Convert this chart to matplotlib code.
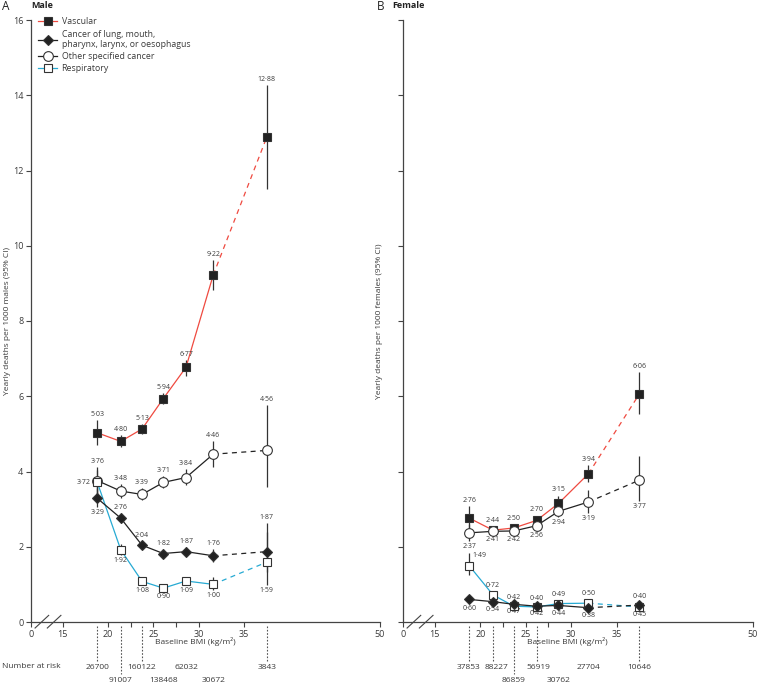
"""BMI vs cause-specific mortality, male and female panels. Writes out.png."""

import matplotlib

matplotlib.use("Agg")
import matplotlib.pyplot as plt  # noqa: E402
from matplotlib.lines import Line2D  # noqa: E402
from matplotlib.transforms import blended_transform_factory  # noqa: E402

plt.rcParams["font.family"] = ["Open Sans", "DejaVu Sans"]

RED, CYAN, INK, TXT = "#ef4a40", "#27aad3", "#222222", "#3a3a3a"

# ---- data ----
male_bmi = [18.8, 21.4, 23.75, 26.1, 28.6, 31.6, 37.5]
male_vasc = [5.03, 4.80, 5.13, 5.94, 6.77, 9.22, 12.88]
male_vasc_lo = [4.70, 4.65, 5.00, 5.80, 6.55, 8.82, 11.52]
male_vasc_hi = [5.36, 4.96, 5.27, 6.09, 6.97, 9.62, 14.26]
male_lung = [3.29, 2.76, 2.04, 1.82, 1.87, 1.76, 1.87]
male_lung_lo = [3.05, 2.62, 1.93, 1.72, 1.76, 1.60, 1.33]
male_lung_hi = [3.55, 2.90, 2.16, 1.93, 1.99, 1.93, 2.63]
male_other = [3.76, 3.48, 3.39, 3.71, 3.84, 4.46, 4.56]
male_other_lo = [3.38, 3.30, 3.24, 3.55, 3.63, 4.13, 3.58]
male_other_hi = [4.13, 3.67, 3.55, 3.88, 4.06, 4.80, 5.77]
male_resp = [3.72, 1.92, 1.08, 0.90, 1.09, 1.00, 1.59]
male_resp_lo = [3.40, 1.78, 0.98, 0.82, 0.99, 0.84, 0.98]
male_resp_hi = [4.05, 2.07, 1.19, 0.99, 1.20, 1.19, 2.40]
male_at_risk = ["26700", "91007", "160122", "138468", "62032", "30672", "3843"]

female_bmi = [18.8, 21.4, 23.7, 26.2, 28.6, 31.9, 37.5]
female_vasc = [2.76, 2.44, 2.50, 2.70, 3.15, 3.94, 6.06]
female_vasc_lo = [2.48, 2.35, 2.41, 2.58, 2.96, 3.72, 5.54]
female_vasc_hi = [3.07, 2.54, 2.60, 2.83, 3.36, 4.18, 6.65]
female_lung = [0.60, 0.54, 0.47, 0.42, 0.44, 0.38, 0.45]
female_lung_lo = [0.52, 0.48, 0.42, 0.37, 0.38, 0.31, 0.36]
female_lung_hi = [0.69, 0.61, 0.53, 0.48, 0.51, 0.46, 0.56]
female_other = [2.37, 2.41, 2.42, 2.56, 2.94, 3.19, 3.77]
female_other_lo = [2.16, 2.33, 2.34, 2.45, 2.78, 2.89, 3.22]
female_other_hi = [2.60, 2.49, 2.50, 2.67, 3.10, 3.52, 4.42]
female_resp = [1.49, 0.72, 0.42, 0.40, 0.49, 0.50, 0.40]
female_resp_lo = [1.25, 0.62, 0.36, 0.34, 0.42, 0.41, 0.30]
female_resp_hi = [1.83, 0.82, 0.49, 0.47, 0.57, 0.60, 0.53]
female_at_risk = ["37853", "88227", "86859", "56919", "30762", "27704", "10646"]

x_ticks = [15, 20, 25, 30, 35, 50]
y_ticks = [0, 2, 4, 6, 8, 10, 12, 14, 16]
ZERO_POS = 11.5  # where "0" sits on the broken x axis

# label placement per point: a=above, b=below, l=left, r=right
male_pos = {
    "vasc": "aaaaaaa",
    "lung": "baaaaaa",
    "other": "aaaaaaa",
    "resp": "lbbbbbb",
}
female_pos = {
    "vasc": "aaaaaaa",
    "lung": "bbbbbbb",
    "other": "bbbbbbb",
    "resp": "raaaaaa",
}
male_rows = [0, 1, 0, 1, 0, 1, 0]
male_guides = [1, 1, 1, 0, 0, 0, 1]
male_nudge = [0, 0, 0, 0, 0, 0, 0]
female_rows = [0, 0, 1, 0, 1, 0, 0]
female_guides = [1, 1, 1, 1, 0, 0, 1]
female_nudge = [-0.1, 0.4, 0, 0.2, 0, 0, 0]

STYLE = {
    "vasc": dict(color=RED, marker="s", mfc=INK, ms=6.2),
    "lung": dict(color=INK, marker="D", mfc=INK, ms=5.6),
    "other": dict(color=INK, marker="o", mfc="white", ms=7.0),
    "resp": dict(color=CYAN, marker="s", mfc="white", ms=6.2),
}


def fmt(v):
    return f"{v:.2f}".replace(".", "\u00b7")


def draw_series(ax, xs, ys, lo, hi, key, pos):
    st = STYLE[key]
    ax.vlines(xs, lo, hi, color="#333333", lw=0.9, zorder=2)
    ax.plot(xs[:-1], ys[:-1], color=st["color"], lw=0.9, zorder=3)
    ax.plot(xs[-2:], ys[-2:], color=st["color"], lw=0.9, ls=(0, (4, 3.5)), zorder=3)
    ax.plot(xs, ys, ls="none", marker=st["marker"], mfc=st["mfc"], mec="#333333",
            mew=0.8, ms=st["ms"], zorder=4)
    for x, y, l, h, p in zip(xs, ys, lo, hi, pos):
        if p == "a":
            kw = dict(xy=(x, h), xytext=(0, 1.5), ha="center", va="bottom")
        elif p == "b":
            kw = dict(xy=(x, l), xytext=(0, -1.5), ha="center", va="top")
        elif p == "l":
            kw = dict(xy=(x, y), xytext=(-5, 0), ha="right", va="center")
        else:
            kw = dict(xy=(x, h), xytext=(2, -2), ha="left", va="center")
        ax.annotate(fmt(y), textcoords="offset points", fontsize=5, color=TXT, **kw)


def style_axes(ax, ylabel, show_ylabels):
    ax.set_xlim(ZERO_POS, 50)
    ax.set_ylim(0, 16)
    ax.spines[["top", "right"]].set_visible(False)
    for s in ("left", "bottom"):
        ax.spines[s].set_color("#444444")
        ax.spines[s].set_linewidth(0.9)
    ax.set_xticks([ZERO_POS] + x_ticks)
    ax.set_xticklabels(["0"] + [str(t) for t in x_ticks])
    ax.set_xticks([22.5, 27.5], minor=True)
    ax.set_yticks(y_ticks)
    if not show_ylabels:
        ax.set_yticklabels([])
    ax.tick_params(length=3.5, width=0.8, color="#444444", labelsize=6.5,
                   labelcolor=TXT, pad=2)
    ax.tick_params(which="minor", length=3.5, width=0.8, color="#444444")
    ax.set_ylabel(ylabel, fontsize=6, color=TXT, labelpad=1 if show_ylabels else 9)
    tr = blended_transform_factory(ax.transData, ax.transAxes)
    for x0 in (11.95, 13.3):
        ax.plot([x0, x0 + 1.5], [-0.010, 0.011], color="#444444", lw=0.8,
                transform=tr, clip_on=False)
    ax.text(29.6, -0.033, "Baseline BMI (kg/m\u00b2)", transform=tr, ha="center",
            va="center", fontsize=6, color=TXT)


def at_risk(ax, xs, labels, rows, guides, nudge):
    tr = blended_transform_factory(ax.transData, ax.transAxes)
    for x, lab, r, g, dx in zip(xs, labels, rows, guides, nudge):
        yt = -0.075 if r == 0 else -0.098
        ax.text(x + dx, yt, lab, transform=tr, ha="center", va="center",
                fontsize=6.0, color=TXT)
        if g:
            ax.plot([x, x], [-0.006, -0.064 if r == 0 else -0.087], color="#555555",
                    lw=0.8, ls=(0, (1.5, 1.5)), transform=tr, clip_on=False)


def main():
    fig = plt.figure(figsize=(7.59, 6.85), dpi=100)
    ax_m = fig.add_axes([31 / 759, 63 / 685, 349 / 759, 602 / 685])
    ax_f = fig.add_axes([403 / 759, 63 / 685, 350 / 759, 602 / 685])

    draw_series(ax_m, male_bmi, male_vasc, male_vasc_lo, male_vasc_hi, "vasc", male_pos["vasc"])
    draw_series(ax_m, male_bmi, male_other, male_other_lo, male_other_hi, "other", male_pos["other"])
    draw_series(ax_m, male_bmi, male_resp, male_resp_lo, male_resp_hi, "resp", male_pos["resp"])
    draw_series(ax_m, male_bmi, male_lung, male_lung_lo, male_lung_hi, "lung", male_pos["lung"])

    draw_series(ax_f, female_bmi, female_vasc, female_vasc_lo, female_vasc_hi, "vasc", female_pos["vasc"])
    draw_series(ax_f, female_bmi, female_other, female_other_lo, female_other_hi, "other", female_pos["other"])
    draw_series(ax_f, female_bmi, female_resp, female_resp_lo, female_resp_hi, "resp", female_pos["resp"])
    draw_series(ax_f, female_bmi, female_lung, female_lung_lo, female_lung_hi, "lung", female_pos["lung"])

    style_axes(ax_m, "Yearly deaths per 1000 males (95% CI)", True)
    style_axes(ax_f, "Yearly deaths per 1000 females (95% CI)", False)

    at_risk(ax_m, male_bmi, male_at_risk, male_rows, male_guides, male_nudge)
    at_risk(ax_f, female_bmi, female_at_risk, female_rows, female_guides, female_nudge)
    fig.text(2 / 759, 1 - 667 / 685, "Number at risk", ha="left", va="center",
             fontsize=6.0, color=TXT)

    handles = [
        Line2D([], [], color=STYLE[k]["color"], lw=0.9, marker=STYLE[k]["marker"],
               mfc=STYLE[k]["mfc"], mec="#333333", mew=0.8, ms=STYLE[k]["ms"])
        for k in ("vasc", "lung", "other", "resp")
    ]
    names = ["Vascular", "Cancer of lung, mouth,\npharynx, larynx, or oesophagus",
             "Other specified cancer", "Respiratory"]
    ax_m.legend(handles, names, loc="upper left", bbox_to_anchor=(0.01, 1.01),
                frameon=False, fontsize=6.3, handlelength=2.2, handletextpad=0.5,
                labelspacing=0.35, labelcolor=TXT, borderaxespad=0)

    fig.text(2 / 759, 1 - 6 / 685, "A", fontsize=8.5, color=INK, va="center")
    fig.text(31 / 759, 1 - 6 / 685, "Male", fontsize=6.5, fontweight="bold",
             color=INK, va="center")
    fig.text(377 / 759, 1 - 6 / 685, "B", fontsize=8.5, color=INK, va="center")
    fig.text(392 / 759, 1 - 6 / 685, "Female", fontsize=6.5, fontweight="bold",
             color=INK, va="center")

    fig.savefig("out.png", dpi=100)


if __name__ == "__main__":
    main()
